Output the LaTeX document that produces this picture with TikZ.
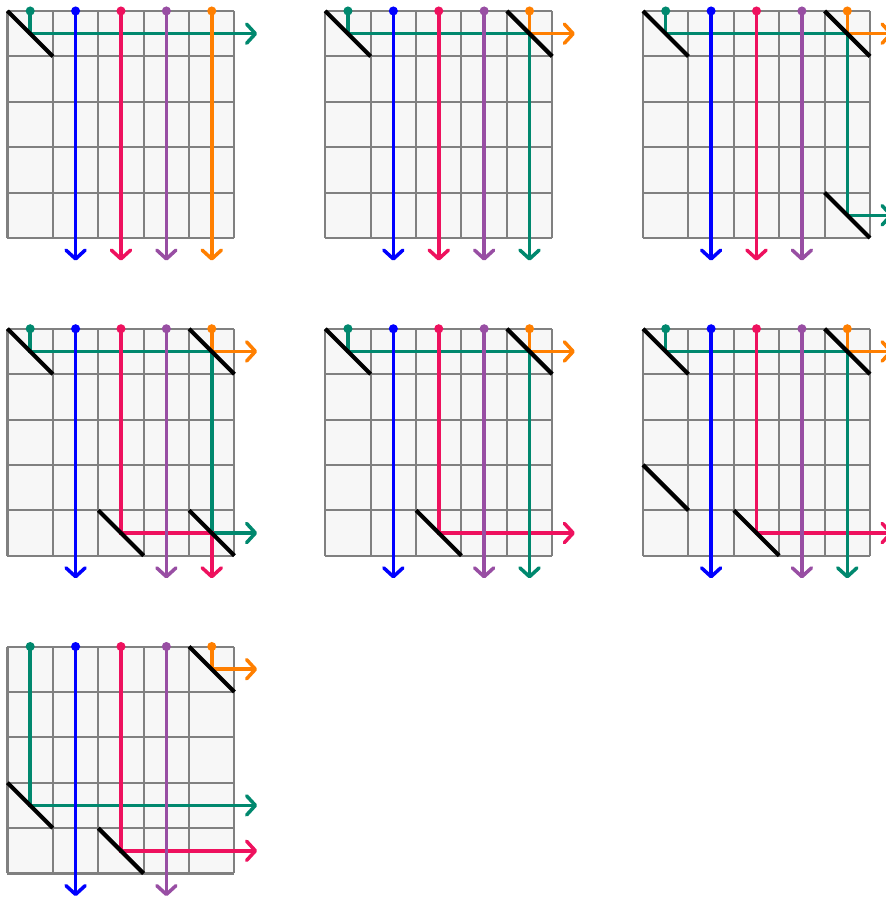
\documentclass[tikz,border=0pt]{standalone}
\usetikzlibrary{arrows.meta}
\definecolor{wgreen}{RGB}{0,136,110}
\definecolor{wblue}{RGB}{0,0,255}
\definecolor{wred}{RGB}{238,17,94}
\definecolor{wpurple}{RGB}{152,78,163}
\definecolor{worange}{RGB}{255,127,0}
\definecolor{cellfill}{RGB}{247,247,247}
\definecolor{gridgray}{RGB}{128,128,128}
\newcommand\boardbg{%
  \fill[cellfill] (0,-5) rectangle (5,0);
  \draw[gridln] (0,-5) grid (5,0);}
\newcommand\boarddots{%
  \foreach \c/\col in {1/wgreen,2/wblue,3/wred,4/wpurple,5/worange}
    \fill[\col] (\c-0.5,0) circle (0.1);}
\newcommand\mirrors[1]{%
  \foreach \r/\c in {#1} \draw[mirror] (\c-1,1-\r) -- (\c,-\r);}
\begin{document}
\begin{tikzpicture}[x=1cm,y=1cm,
  gridln/.style={draw=gridgray, line width=1.3pt},
  wire/.style={line width=2.2pt, -{Straight Barb[length=5.5pt,width=12pt,round]}},
  wireover/.style={line width=2.2pt},
  mirror/.style={line width=2.6pt, black}]
\useasboundingbox (-0.165,0.242) rectangle (19.35,-19.54);

% ---------- grid A ----------
\begin{scope}[shift={(0,0)}]
\boardbg
\draw[wire,wgreen] (0.5,0) -- (0.5,-0.5) -- (5.5,-0.5);
\draw[wire,wblue] (1.5,0) -- (1.5,-5.5);
\draw[wire,wred] (2.5,0) -- (2.5,-5.5);
\draw[wire,wpurple] (3.5,0) -- (3.5,-5.5);
\draw[wire,worange] (4.5,0) -- (4.5,-5.5);
\mirrors{1/1}
\boarddots
\end{scope}

% ---------- grid B ----------
\begin{scope}[shift={(7,0)}]
\boardbg
\draw[wire,wgreen] (0.5,0) -- (0.5,-0.5) -- (4.5,-0.5) -- (4.5,-5.5);
\draw[wire,wblue] (1.5,0) -- (1.5,-5.5);
\draw[wire,wred] (2.5,0) -- (2.5,-5.5);
\draw[wire,wpurple] (3.5,0) -- (3.5,-5.5);
\draw[wire,worange] (4.5,0) -- (4.5,-0.5) -- (5.5,-0.5);
\draw[wireover,wgreen] (4.5,-0.6) -- (4.5,-5);
\mirrors{1/1,1/5}
\boarddots
\end{scope}

% ---------- grid C ----------
\begin{scope}[shift={(14,0)}]
\boardbg
\draw[wire,wgreen] (0.5,0) -- (0.5,-0.5) -- (4.5,-0.5) -- (4.5,-4.5) -- (5.5,-4.5);
\draw[wire,wblue] (1.5,0) -- (1.5,-5.5);
\draw[wire,wred] (2.5,0) -- (2.5,-5.5);
\draw[wire,wpurple] (3.5,0) -- (3.5,-5.5);
\draw[wire,worange] (4.5,0) -- (4.5,-0.5) -- (5.5,-0.5);
\mirrors{1/1,1/5,5/5}
\boarddots
\end{scope}

% ---------- grid D ----------
\begin{scope}[shift={(0,-7)}]
\boardbg
\draw[wire,wgreen] (0.5,0) -- (0.5,-0.5) -- (4.5,-0.5) -- (4.5,-4.5) -- (5.5,-4.5);
\draw[wire,wblue] (1.5,0) -- (1.5,-5.5);
\draw[wire,wred] (2.5,0) -- (2.5,-4.5) -- (4.5,-4.5) -- (4.5,-5.5);
\draw[wire,wpurple] (3.5,0) -- (3.5,-5.5);
\draw[wire,worange] (4.5,0) -- (4.5,-0.5) -- (5.5,-0.5);
\draw[wireover,wred] (2.5,0) -- (2.5,-4.4);
\draw[wireover,wpurple] (3.5,0) -- (3.5,-5);
\mirrors{1/1,1/5,5/3,5/5}
\boarddots
\end{scope}

% ---------- grid E ----------
\begin{scope}[shift={(7,-7)}]
\boardbg
\draw[wire,wgreen] (0.5,0) -- (0.5,-0.5) -- (4.5,-0.5) -- (4.5,-5.5);
\draw[wire,wblue] (1.5,0) -- (1.5,-5.5);
\draw[wire,wred] (2.5,0) -- (2.5,-4.5) -- (5.5,-4.5);
\draw[wire,wpurple] (3.5,0) -- (3.5,-5.5);
\draw[wire,worange] (4.5,0) -- (4.5,-0.5) -- (5.5,-0.5);
\draw[wireover,wred] (2.5,0) -- (2.5,-4.4);
\draw[wireover,wgreen] (4.5,-0.6) -- (4.5,-5);
\draw[wireover,wpurple] (3.5,0) -- (3.5,-5);
\mirrors{1/1,1/5,5/3}
\boarddots
\end{scope}

% ---------- grid F ----------
\begin{scope}[shift={(14,-7)}]
\boardbg
\draw[wire,wgreen] (0.5,0) -- (0.5,-0.5) -- (4.5,-0.5) -- (4.5,-5.5);
\draw[wire,wblue] (1.5,0) -- (1.5,-5.5);
\draw[wire,wred] (2.5,0) -- (2.5,-4.5) -- (5.5,-4.5);
\draw[wire,wpurple] (3.5,0) -- (3.5,-5.5);
\draw[wire,worange] (4.5,0) -- (4.5,-0.5) -- (5.5,-0.5);
\draw[wireover,wred] (2.5,0) -- (2.5,-4.4);
\draw[wireover,wgreen] (4.5,-0.6) -- (4.5,-5);
\draw[wireover,wpurple] (3.5,0) -- (3.5,-5);
\mirrors{1/1,1/5,4/1,5/3}
\boarddots
\end{scope}

% ---------- grid G ----------
\begin{scope}[shift={(0,-14)}]
\boardbg
\draw[wire,wgreen] (0.5,0) -- (0.5,-3.5) -- (5.5,-3.5);
\draw[wire,wblue] (1.5,0) -- (1.5,-5.5);
\draw[wire,wred] (2.5,0) -- (2.5,-4.5) -- (5.5,-4.5);
\draw[wire,wpurple] (3.5,0) -- (3.5,-5.5);
\draw[wire,worange] (4.5,0) -- (4.5,-0.5) -- (5.5,-0.5);
\draw[wireover,wred] (2.5,0) -- (2.5,-4.4);
\draw[wireover,wpurple] (3.5,0) -- (3.5,-5);
\mirrors{1/5,4/1,5/3}
\boarddots
\end{scope}
\end{tikzpicture}
\end{document}
